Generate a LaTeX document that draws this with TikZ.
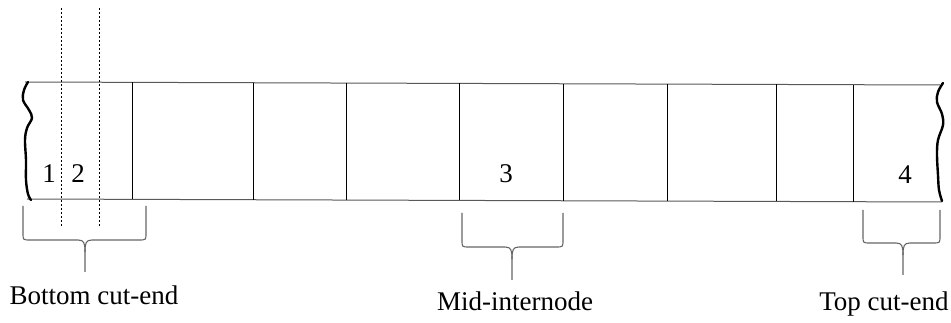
\documentclass[tikz,border=0pt]{standalone}
\usepackage{fontspec}
\setmainfont{Liberation Serif}
\usetikzlibrary{calc}

% curly brace opening upwards: left x, right x, top y, bar y, stem x, stem end y
\newcommand{\stembrace}[6]{%
  \draw[bracestyle]
    (#1,#3) -- (#1,#4-7) .. controls (#1,#4) .. (#1+7,#4)
    -- (#5-7,#4) .. controls (#5-1,#4) and (#5,#4+3) .. (#5,#4+12) -- (#5,#6);
  \draw[bracestyle]
    (#2,#3) -- (#2,#4-7) .. controls (#2,#4) .. (#2-7,#4)
    -- (#5+7,#4) .. controls (#5+1,#4) and (#5,#4+3) .. (#5,#4+12);
}

\begin{document}
\begin{tikzpicture}[x=1pt,y=-1pt,
  edge/.style={draw=black!65,line width=1pt},
  wall/.style={draw=black,line width=0.9pt},
  cutline/.style={draw=black,line width=0.7pt,dashed,dash pattern=on 2.5pt off 1.5pt},
  wavy/.style={draw=black,line width=2.4pt,line cap=round},
  bracestyle/.style={draw=black!60,line width=1.1pt},
  lbl/.style={inner sep=0pt,anchor=base,font=\fontsize{27}{31}\selectfont}]
\useasboundingbox (0,0) rectangle (951,323);

% stem outline
\draw[edge] (25,82) -- (940,85);
\draw[edge] (27,199) -- (942,202);

% broken ends
\draw[wavy] plot[smooth,tension=0.6] coordinates
  {(28,82) (24,90) (23,100) (29,110) (32,118) (27,128) (25,140)
   (26,160) (26,180) (28,194) (31,200)};
\draw[wavy] plot[smooth,tension=0.6] coordinates
  {(943,83) (938,92) (937,102) (942,114) (943,125) (938,140) (937,155)
   (938,175) (939,190) (942,201)};

% node walls
\foreach \xx in {132,253,346,459,563,667,776,853}
  \draw[wall] (\xx,{82+3*(\xx-25)/915}) -- (\xx,{199+3*(\xx-25)/915});

% cutting planes at the bottom end
\draw[cutline] (61,8) -- (61,228);
\draw[cutline] (99,8) -- (99,228);

% segment numbers
\node[lbl] (n1) at (49,183) {1};
\node[lbl] (n2) at (78,183) {2};
\node[lbl] (n3) at (506,183) {3};
\node[lbl] (n4) at (905,184) {4};

% braces
\stembrace{23}{146}{206}{240}{85}{272}
\stembrace{462}{563}{213}{247}{512}{280}
\stembrace{863}{940}{210}{243}{903}{275}

% labels
\node[lbl] (bottom) at (94,305) {Bottom cut-end};
\node[lbl] (mid) at (515,311) {Mid-internode};
\node[lbl] (top) at (884,310) {Top cut-end};
\end{tikzpicture}
\end{document}
